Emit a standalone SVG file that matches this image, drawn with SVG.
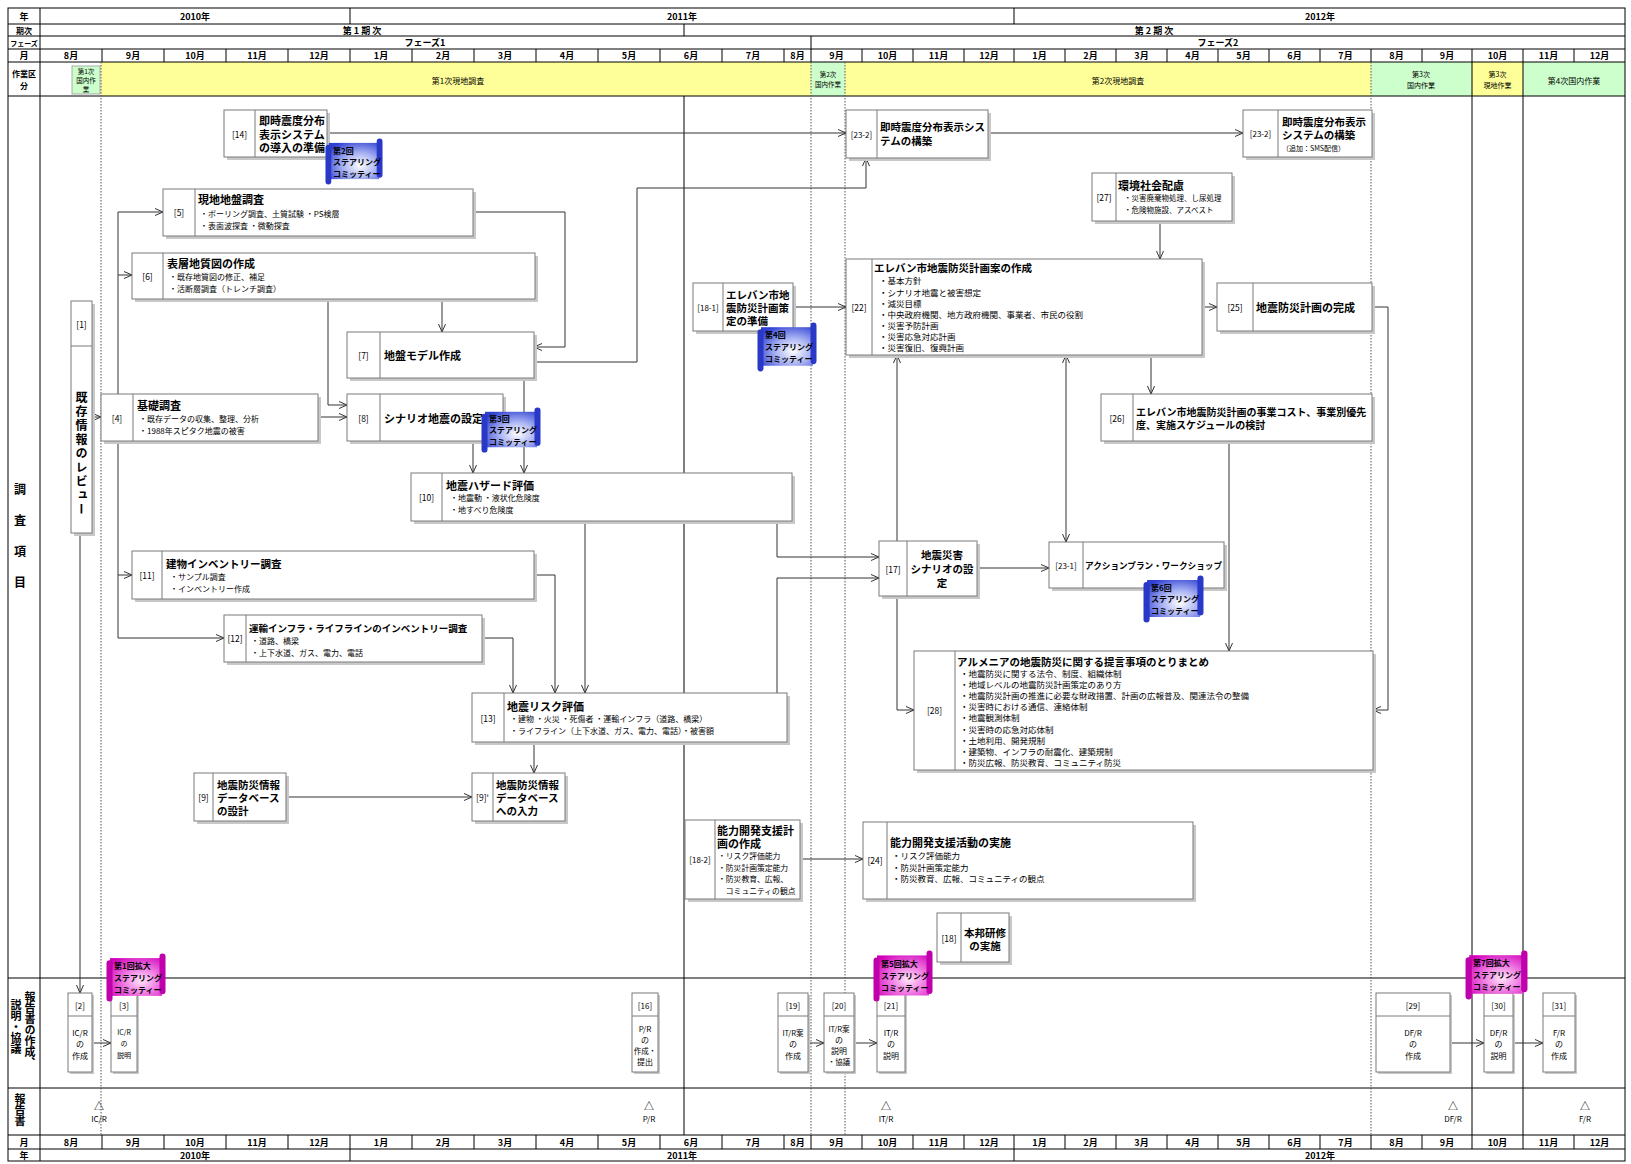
<svg xmlns="http://www.w3.org/2000/svg" width="1631" height="1164" viewBox="0 0 1631 1164">
<style>
text{font-family:"Noto Sans CJK JP","Noto Sans CJK SC",sans-serif;fill:#000;dominant-baseline:central}
.ti{font-size:11px;font-weight:700}
.bu{font-size:8px}
.lb{font-size:8.5px;text-anchor:middle}
.hd{font-size:9px;font-weight:700;text-anchor:middle}
.wk{font-size:8px;text-anchor:middle}
.sm{font-size:6.5px;text-anchor:middle}
.sc{font-size:8px;font-weight:700}
.rp{font-size:8px;text-anchor:middle}
.vt{font-size:11px;font-weight:700;writing-mode:vertical-rl}
.bx{fill:#fff;stroke:#7a7a7a;stroke-width:1}
.sh{fill:#c8c8c8}
.dv{stroke:#7a7a7a;stroke-width:1}
.cn{fill:none;stroke:#333;stroke-width:1;marker-end:url(#ah)}
.dot{stroke:#555;stroke-width:1;stroke-dasharray:1.5 1.5}
</style>
<defs>
<marker id="ah" markerUnits="userSpaceOnUse" markerWidth="9" markerHeight="8" refX="8" refY="4" orient="auto-start-reverse">
<path d="M0,0.5 L8,4 L0,7.5" fill="none" stroke="#333" stroke-width="1"/>
</marker>
<radialGradient id="gB" cx="0.62" cy="0.62" r="0.75">
<stop offset="0" stop-color="#ffffff"/><stop offset="0.45" stop-color="#a9b3f3"/><stop offset="1" stop-color="#2e3fd2"/>
</radialGradient>
<radialGradient id="gP" cx="0.6" cy="0.6" r="0.75">
<stop offset="0" stop-color="#ffe6fa"/><stop offset="0.45" stop-color="#f07ae2"/><stop offset="1" stop-color="#d000ba"/>
</radialGradient>
<symbol id="scB" viewBox="0 0 60 48" preserveAspectRatio="none">
<rect x="4" y="5" width="52" height="37" fill="url(#gB)"/>
<rect x="0.5" y="7" width="6" height="40.5" rx="3" fill="#2a38c8"/>
<rect x="53.5" y="0.5" width="6" height="40" rx="3" fill="#2a38c8"/>
</symbol>
<symbol id="scP" viewBox="0 0 60 48" preserveAspectRatio="none">
<rect x="4" y="5" width="52" height="37" fill="url(#gP)"/>
<rect x="0.5" y="7" width="6" height="40.5" rx="3" fill="#c000aa"/>
<rect x="53.5" y="0.5" width="6" height="40" rx="3" fill="#c000aa"/>
</symbol>
</defs>
<rect x="0" y="0" width="1631" height="1164" fill="#fff"/>

<g id="header-fills">
<rect x="72" y="66" width="28" height="28" fill="#ccffcc" stroke="#9a9a9a" stroke-width="0.8"/>
<rect x="101" y="62" width="710" height="34" fill="#ffff99"/>
<rect x="811" y="62" width="34" height="34" fill="#ccffcc"/>
<rect x="845" y="62" width="526" height="34" fill="#ffff99"/>
<rect x="1371" y="62" width="101" height="34" fill="#ccffcc"/>
<rect x="1472" y="62" width="51" height="34" fill="#ffff99"/>
<rect x="1523" y="62" width="102" height="34" fill="#ccffcc"/>
</g>

<g id="grid" fill="none" stroke="#000" stroke-width="1">
<rect x="8" y="8" width="1617" height="1153"/>
<path d="M8,24H1625M8,36H1625M8,49H1625M8,62H1625M8,96H1625M8,978H1625M8,1088H1625M8,1135H1625M8,1149H1625"/>
<path d="M40,8V1161M350,8V24M1014,8V24M350,1149V1161M1014,1149V1161M684,24V36M811,36V49"/>
<path d="M684,96V1135M1472,62V1135M1523,62V1135"/>
<path d="M102,49V62M164,49V62M226,49V62M288,49V62M350,49V62M412,49V62M474,49V62M536,49V62M598,49V62M660,49V62M722,49V62M784,49V62M811,49V62M862,49V62M913,49V62M964,49V62M1014,49V62M1065,49V62M1116,49V62M1167,49V62M1218,49V62M1269,49V62M1320,49V62M1371,49V62M1422,49V62M1472,49V62M1523,49V62M1574,49V62"/>
<path d="M102,1135V1149M164,1135V1149M226,1135V1149M288,1135V1149M350,1135V1149M412,1135V1149M474,1135V1149M536,1135V1149M598,1135V1149M660,1135V1149M722,1135V1149M784,1135V1149M811,1135V1149M862,1135V1149M913,1135V1149M964,1135V1149M1014,1135V1149M1065,1135V1149M1116,1135V1149M1167,1135V1149M1218,1135V1149M1269,1135V1149M1320,1135V1149M1371,1135V1149M1422,1135V1149M1472,1135V1149M1523,1135V1149M1574,1135V1149"/>
</g>
<g id="dotted">
<path class="dot" d="M101,62V1135M811,62V1135M845,62V1135M1371,62V1135"/>
</g>

<g id="header-text">
<text class="hd" x="24" y="16">年</text>
<text class="hd" x="195" y="16">2010年</text>
<text class="hd" x="682" y="16">2011年</text>
<text class="hd" x="1320" y="16">2012年</text>
<text class="hd" x="24" y="30" style="font-size:8px">期次</text>
<text class="hd" x="362" y="30">第 1 期 次</text>
<text class="hd" x="1154" y="30">第 2 期 次</text>
<text class="hd" x="24" y="42.5" style="font-size:7px">フェーズ</text>
<text class="hd" x="425" y="42.5">フェーズ1</text>
<text class="hd" x="1218" y="42.5">フェーズ2</text>
<text class="hd" x="24" y="55.5">月</text>
<g class="months">
<text class="hd" x="71" y="55.5">8月</text><text class="hd" x="133" y="55.5">9月</text><text class="hd" x="195" y="55.5">10月</text><text class="hd" x="257" y="55.5">11月</text><text class="hd" x="319" y="55.5">12月</text><text class="hd" x="381" y="55.5">1月</text><text class="hd" x="443" y="55.5">2月</text><text class="hd" x="505" y="55.5">3月</text><text class="hd" x="567" y="55.5">4月</text><text class="hd" x="629" y="55.5">5月</text><text class="hd" x="691" y="55.5">6月</text><text class="hd" x="753" y="55.5">7月</text><text class="hd" x="797.5" y="55.5">8月</text>
<text class="hd" x="836.5" y="55.5">9月</text><text class="hd" x="887.5" y="55.5">10月</text><text class="hd" x="938.5" y="55.5">11月</text><text class="hd" x="989" y="55.5">12月</text><text class="hd" x="1039.5" y="55.5">1月</text><text class="hd" x="1090.5" y="55.5">2月</text><text class="hd" x="1141.5" y="55.5">3月</text><text class="hd" x="1192.5" y="55.5">4月</text><text class="hd" x="1243.5" y="55.5">5月</text><text class="hd" x="1294.5" y="55.5">6月</text><text class="hd" x="1345.5" y="55.5">7月</text><text class="hd" x="1396.5" y="55.5">8月</text><text class="hd" x="1447" y="55.5">9月</text><text class="hd" x="1497.5" y="55.5">10月</text><text class="hd" x="1548.5" y="55.5">11月</text><text class="hd" x="1599.5" y="55.5">12月</text>
</g>
<text class="hd" x="24" y="73" style="font-size:8px">作業区</text>
<text class="hd" x="24" y="85" style="font-size:8px">分</text>
<text class="sm" x="86" y="71">第1次</text>
<text class="sm" x="86" y="80">国内作</text>
<text class="sm" x="86" y="89">業</text>
<text class="wk" x="458" y="80">第1次現地調査</text>
<text class="sm" x="828" y="74">第2次</text>
<text class="sm" x="828" y="84">国内作業</text>
<text class="wk" x="1118" y="80">第2次現地調査</text>
<text class="wk" x="1421" y="74" style="font-size:7px">第3次</text>
<text class="wk" x="1421" y="85" style="font-size:7px">国内作業</text>
<text class="wk" x="1497.5" y="74" style="font-size:7px">第3次</text>
<text class="wk" x="1497.5" y="85" style="font-size:7px">現地作業</text>
<text class="wk" x="1574" y="80">第4次国内作業</text>
</g>

<g id="side-labels">
<text class="vt" x="20" y="483" style="font-size:12px" letter-spacing="19">調査項目</text>
<text class="vt" x="30" y="991">報告書の作成、</text>
<text class="vt" x="16" y="999">説明・協議</text>
<text class="vt" x="20" y="1093">報告書</text>
<text class="hd" x="24" y="1142">月</text>
<text class="hd" x="24" y="1155">年</text>
<g class="months">
<text class="hd" x="71" y="1142">8月</text><text class="hd" x="133" y="1142">9月</text><text class="hd" x="195" y="1142">10月</text><text class="hd" x="257" y="1142">11月</text><text class="hd" x="319" y="1142">12月</text><text class="hd" x="381" y="1142">1月</text><text class="hd" x="443" y="1142">2月</text><text class="hd" x="505" y="1142">3月</text><text class="hd" x="567" y="1142">4月</text><text class="hd" x="629" y="1142">5月</text><text class="hd" x="691" y="1142">6月</text><text class="hd" x="753" y="1142">7月</text><text class="hd" x="797.5" y="1142">8月</text>
<text class="hd" x="836.5" y="1142">9月</text><text class="hd" x="887.5" y="1142">10月</text><text class="hd" x="938.5" y="1142">11月</text><text class="hd" x="989" y="1142">12月</text><text class="hd" x="1039.5" y="1142">1月</text><text class="hd" x="1090.5" y="1142">2月</text><text class="hd" x="1141.5" y="1142">3月</text><text class="hd" x="1192.5" y="1142">4月</text><text class="hd" x="1243.5" y="1142">5月</text><text class="hd" x="1294.5" y="1142">6月</text><text class="hd" x="1345.5" y="1142">7月</text><text class="hd" x="1396.5" y="1142">8月</text><text class="hd" x="1447" y="1142">9月</text><text class="hd" x="1497.5" y="1142">10月</text><text class="hd" x="1548.5" y="1142">11月</text><text class="hd" x="1599.5" y="1142">12月</text>
</g>
<text class="hd" x="195" y="1155">2010年</text>
<text class="hd" x="682" y="1155">2011年</text>
<text class="hd" x="1320" y="1155">2012年</text>
</g>

<g id="connectors">
<path class="cn" d="M80,533V993"/>
<path class="cn" d="M92,417H101"/>
<path class="cn" d="M118,394V212H163"/>
<path class="cn" d="M118,275H132"/>
<path class="cn" d="M118,441V638H224"/>
<path class="cn" d="M118,575H132"/>
<path class="cn" d="M318,417H347"/>
<path class="cn" d="M442,299V332"/>
<path class="cn" d="M328,299V405H347"/>
<path class="cn" d="M473,212H565V347H534"/>
<path class="cn" d="M534,362H637V188H866V158"/>
<path class="cn" d="M524,378V473"/>
<path class="cn" d="M473,441V473"/>
<path class="cn" d="M327,133H846"/>
<path class="cn" d="M988,133H1243"/>
<path class="cn" d="M585,521V693"/>
<path class="cn" d="M534,575H555V693"/>
<path class="cn" d="M482,638H513V693"/>
<path class="cn" d="M777,521V557H879"/>
<path class="cn" d="M777,693V578H879"/>
<path class="cn" d="M534,742V773"/>
<path class="cn" d="M286,797H472"/>
<path class="cn" d="M800,859H863"/>
<path class="cn" d="M793,307H846"/>
<path class="cn" d="M1160,221V259"/>
<path class="cn" d="M1202,307H1217"/>
<path class="cn" d="M1151,355V394"/>
<path class="cn" d="M1229,441V651"/>
<path class="cn" d="M1372,307H1388V710H1373"/>
<path class="cn" d="M897,541V355"/>
<path class="cn" d="M1066,542V355" marker-start="url(#ah)"/>
<path class="cn" d="M977,568H1049"/>
<path class="cn" d="M897,596V710H914"/>
<path class="cn" d="M92,1043H111"/>
<path class="cn" d="M808,1043H824"/>
<path class="cn" d="M854,1043H877"/>
<path class="cn" d="M1450,1043H1484"/>
<path class="cn" d="M1513,1043H1543"/>
</g>

<g id="n1">
<rect class="sh" x="74" y="304" width="21" height="232"/>
<rect class="bx" x="71" y="301" width="21" height="232"/>
<line class="dv" x1="71" y1="346" x2="92" y2="346"/>
<text class="lb" x="81.5" y="324">[1]</text>
<text class="vt" x="81.5" y="391" style="font-size:12px" letter-spacing="2">既存情報のレビュー</text>
</g>

<g id="n14">
<rect class="sh" x="227" y="113" width="103" height="47"/>
<rect class="bx" x="224" y="110" width="103" height="47"/>
<line class="dv" x1="255" y1="110" x2="255" y2="157"/>
<text class="lb" x="239.5" y="133.5">[14]</text>
<text class="ti" x="259" y="120">即時震度分布</text>
<text class="ti" x="259" y="133.5">表示システム</text>
<text class="ti" x="259" y="147">の導入の準備</text>
</g>

<g id="n5">
<rect class="sh" x="166" y="192" width="310" height="47"/>
<rect class="bx" x="163" y="189" width="310" height="47"/>
<line class="dv" x1="195" y1="189" x2="195" y2="236"/>
<text class="lb" x="179" y="212">[5]</text>
<text class="ti" x="198" y="199">現地地盤調査</text>
<text class="bu" x="200" y="213">・ボーリング調査、土質試験 ・PS検層</text>
<text class="bu" x="200" y="225">・表面波探査 ・微動探査</text>
</g>

<g id="n6">
<rect class="sh" x="135" y="256" width="403" height="46"/>
<rect class="bx" x="132" y="253" width="403" height="46"/>
<line class="dv" x1="163" y1="253" x2="163" y2="299"/>
<text class="lb" x="147.5" y="276">[6]</text>
<text class="ti" x="167" y="263">表層地質図の作成</text>
<text class="bu" x="169" y="276">・既存地質図の修正、補足</text>
<text class="bu" x="169" y="288">・活断層調査（トレンチ調査）</text>
</g>

<g id="n7">
<rect class="sh" x="350" y="335" width="187" height="46"/>
<rect class="bx" x="347" y="332" width="187" height="46"/>
<line class="dv" x1="380" y1="332" x2="380" y2="378"/>
<text class="lb" x="363.5" y="355">[7]</text>
<text class="ti" x="384" y="355">地盤モデル作成</text>
</g>

<g id="n4">
<rect class="sh" x="104" y="397" width="217" height="47"/>
<rect class="bx" x="101" y="394" width="217" height="47"/>
<line class="dv" x1="133" y1="394" x2="133" y2="441"/>
<text class="lb" x="117" y="417.5">[4]</text>
<text class="ti" x="137" y="405">基礎調査</text>
<text class="bu" x="139" y="418">・既存データの収集、整理、分析</text>
<text class="bu" x="139" y="430">・1988年スピタク地震の被害</text>
</g>

<g id="n8">
<rect class="sh" x="350" y="397" width="156" height="47"/>
<rect class="bx" x="347" y="394" width="156" height="47"/>
<line class="dv" x1="380" y1="394" x2="380" y2="441"/>
<text class="lb" x="363.5" y="417.5">[8]</text>
<text class="ti" x="384" y="417.5">シナリオ地震の設定</text>
</g>

<g id="n10">
<rect class="sh" x="414" y="476" width="381" height="48"/>
<rect class="bx" x="411" y="473" width="381" height="48"/>
<line class="dv" x1="442" y1="473" x2="442" y2="521"/>
<text class="lb" x="426.5" y="497">[10]</text>
<text class="ti" x="446" y="485">地震ハザード評価</text>
<text class="bu" x="450" y="497.5">・地震動 ・液状化危険度</text>
<text class="bu" x="450" y="509.5">・地すべり危険度</text>
</g>

<g id="n11">
<rect class="sh" x="135" y="554" width="402" height="48"/>
<rect class="bx" x="132" y="551" width="402" height="48"/>
<line class="dv" x1="162" y1="551" x2="162" y2="599"/>
<text class="lb" x="147" y="575">[11]</text>
<text class="ti" x="166" y="563" style="font-size:10.5px">建物インベントリー調査</text>
<text class="bu" x="170" y="576">・サンプル調査</text>
<text class="bu" x="170" y="588">・インベントリー作成</text>
</g>

<g id="n12">
<rect class="sh" x="227" y="618" width="258" height="47"/>
<rect class="bx" x="224" y="615" width="258" height="47"/>
<line class="dv" x1="246" y1="615" x2="246" y2="662"/>
<text class="lb" x="235" y="638">[12]</text>
<text class="ti" x="249" y="628" style="font-size:9.5px">運輸インフラ・ライフラインのインベントリー調査</text>
<text class="bu" x="251" y="640">・道路、橋梁</text>
<text class="bu" x="251" y="652">・上下水道、ガス、電力、電話</text>
</g>

<g id="n13">
<rect class="sh" x="475" y="696" width="315" height="49"/>
<rect class="bx" x="472" y="693" width="315" height="49"/>
<line class="dv" x1="504" y1="693" x2="504" y2="742"/>
<text class="lb" x="488" y="717.5">[13]</text>
<text class="ti" x="507" y="706">地震リスク評価</text>
<text class="bu" x="510" y="718.5">・建物 ・火災 ・死傷者 ・運輸インフラ（道路、橋梁）</text>
<text class="bu" x="510" y="730.5">・ライフライン（上下水道、ガス、電力、電話）・被害額</text>
</g>

<g id="n9">
<rect class="sh" x="197" y="776" width="92" height="48"/>
<rect class="bx" x="194" y="773" width="92" height="48"/>
<line class="dv" x1="213" y1="773" x2="213" y2="821"/>
<text class="lb" x="203.5" y="797">[9]</text>
<text class="ti" x="217" y="784" style="font-size:10.5px">地震防災情報</text>
<text class="ti" x="217" y="797" style="font-size:10.5px">データベース</text>
<text class="ti" x="217" y="810" style="font-size:10.5px">の設計</text>
</g>

<g id="n9b">
<rect class="sh" x="475" y="776" width="93" height="48"/>
<rect class="bx" x="472" y="773" width="93" height="48"/>
<line class="dv" x1="493" y1="773" x2="493" y2="821"/>
<text class="lb" x="482.5" y="797">[9]'</text>
<text class="ti" x="496" y="784" style="font-size:10.5px">地震防災情報</text>
<text class="ti" x="496" y="797" style="font-size:10.5px">データベース</text>
<text class="ti" x="496" y="810" style="font-size:10.5px">への入力</text>
</g>

<g id="n18-1">
<rect class="sh" x="696" y="286" width="100" height="48"/>
<rect class="bx" x="693" y="283" width="100" height="48"/>
<line class="dv" x1="723" y1="283" x2="723" y2="331"/>
<text class="lb" x="708" y="307" style="font-size:8px">[18-1]</text>
<text class="ti" x="726" y="294" style="font-size:10.5px">エレバン市地</text>
<text class="ti" x="726" y="307" style="font-size:10.5px">震防災計画策</text>
<text class="ti" x="726" y="320" style="font-size:10.5px">定の準備</text>
</g>

<g id="n18-2">
<rect class="sh" x="688" y="823" width="115" height="79"/>
<rect class="bx" x="685" y="820" width="115" height="79"/>
<line class="dv" x1="715" y1="820" x2="715" y2="899"/>
<text class="lb" x="700" y="859" style="font-size:8px">[18-2]</text>
<text class="ti" x="717" y="830">能力開発支援計</text>
<text class="ti" x="717" y="843">画の作成</text>
<text class="bu" x="718" y="855.5" style="font-size:7.8px">・リスク評価能力</text>
<text class="bu" x="718" y="867" style="font-size:7.8px">・防災計画策定能力</text>
<text class="bu" x="718" y="878.5" style="font-size:7.8px">・防災教育、広報、</text>
<text class="bu" x="718" y="890" style="font-size:7.8px">　コミュニティの観点</text>
</g>

<g id="n24">
<rect class="sh" x="866" y="825" width="330" height="77"/>
<rect class="bx" x="863" y="822" width="330" height="77"/>
<line class="dv" x1="887" y1="822" x2="887" y2="899"/>
<text class="lb" x="875" y="860">[24]</text>
<text class="ti" x="890" y="842">能力開発支援活動の実施</text>
<text class="bu" x="892" y="855" style="font-size:8.5px">・リスク評価能力</text>
<text class="bu" x="892" y="866.5" style="font-size:8.5px">・防災計画策定能力</text>
<text class="bu" x="892" y="878" style="font-size:8.5px">・防災教育、広報、コミュニティの観点</text>
</g>

<g id="n18">
<rect class="sh" x="940" y="916" width="72" height="49"/>
<rect class="bx" x="937" y="913" width="72" height="49"/>
<line class="dv" x1="961" y1="913" x2="961" y2="962"/>
<text class="lb" x="949" y="937.5">[18]</text>
<text class="ti" x="985" y="932" style="font-size:10.5px;text-anchor:middle">本邦研修</text>
<text class="ti" x="985" y="945" style="font-size:10.5px;text-anchor:middle">の実施</text>
</g>

<g id="n23-2a">
<rect class="sh" x="849" y="113" width="142" height="48"/>
<rect class="bx" x="846" y="110" width="142" height="48"/>
<line class="dv" x1="877" y1="110" x2="877" y2="158"/>
<text class="lb" x="861.5" y="134" style="font-size:8px">[23-2]</text>
<text class="ti" x="880" y="126" style="font-size:10.5px">即時震度分布表示シス</text>
<text class="ti" x="880" y="140" style="font-size:10.5px">テムの構築</text>
</g>

<g id="n23-2b">
<rect class="sh" x="1246" y="113" width="129" height="47"/>
<rect class="bx" x="1243" y="110" width="129" height="47"/>
<line class="dv" x1="1278" y1="110" x2="1278" y2="157"/>
<text class="lb" x="1260.5" y="133.5" style="font-size:8px">[23-2]</text>
<text class="ti" x="1282" y="121" style="font-size:10.5px">即時震度分布表示</text>
<text class="ti" x="1282" y="134.5" style="font-size:10.5px">システムの構築</text>
<text class="bu" x="1282" y="148" style="font-size:7px">（追加：SMS配信）</text>
</g>

<g id="n27">
<rect class="sh" x="1095" y="176" width="140" height="48"/>
<rect class="bx" x="1092" y="173" width="140" height="48"/>
<line class="dv" x1="1116" y1="173" x2="1116" y2="221"/>
<text class="lb" x="1104" y="197">[27]</text>
<text class="ti" x="1118" y="185">環境社会配慮</text>
<text class="bu" x="1124" y="197.5" style="font-size:7.5px">・災害廃棄物処理、し尿処理</text>
<text class="bu" x="1124" y="209.5" style="font-size:7.5px">・危険物施設、アスベスト</text>
</g>

<g id="n22">
<rect class="sh" x="849" y="262" width="356" height="96"/>
<rect class="bx" x="846" y="259" width="356" height="96"/>
<line class="dv" x1="872" y1="259" x2="872" y2="355"/>
<text class="lb" x="859" y="307">[22]</text>
<text class="ti" x="874" y="267.5" style="font-size:10.5px">エレバン市地震防災計画案の作成</text>
<text class="bu" x="879" y="280" style="font-size:8.5px">・基本方針</text>
<text class="bu" x="879" y="291.5" style="font-size:8.5px">・シナリオ地震と被害想定</text>
<text class="bu" x="879" y="302.5" style="font-size:8.5px">・減災目標</text>
<text class="bu" x="879" y="313.5" style="font-size:8.5px">・中央政府機関、地方政府機関、事業者、市民の役割</text>
<text class="bu" x="879" y="325" style="font-size:8.5px">・災害予防計画</text>
<text class="bu" x="879" y="336" style="font-size:8.5px">・災害応急対応計画</text>
<text class="bu" x="879" y="347" style="font-size:8.5px">・災害復旧、復興計画</text>
</g>

<g id="n25">
<rect class="sh" x="1220" y="286" width="155" height="48"/>
<rect class="bx" x="1217" y="283" width="155" height="48"/>
<line class="dv" x1="1253" y1="283" x2="1253" y2="331"/>
<text class="lb" x="1235" y="307">[25]</text>
<text class="ti" x="1256" y="307">地震防災計画の完成</text>
</g>

<g id="n26">
<rect class="sh" x="1104" y="397" width="271" height="47"/>
<rect class="bx" x="1101" y="394" width="271" height="47"/>
<line class="dv" x1="1133" y1="394" x2="1133" y2="441"/>
<text class="lb" x="1117" y="417.5">[26]</text>
<text class="ti" x="1136" y="411" style="font-size:10px">エレバン市地震防災計画の事業コスト、事業別優先</text>
<text class="ti" x="1136" y="424.5" style="font-size:10px">度、実施スケジュールの検討</text>
</g>

<g id="n17">
<rect class="sh" x="882" y="544" width="98" height="55"/>
<rect class="bx" x="879" y="541" width="98" height="55"/>
<line class="dv" x1="907" y1="541" x2="907" y2="596"/>
<text class="lb" x="893" y="568.5">[17]</text>
<text class="ti" x="942" y="554.5" style="font-size:10.5px;text-anchor:middle">地震災害</text>
<text class="ti" x="942" y="568.5" style="font-size:10.5px;text-anchor:middle">シナリオの設</text>
<text class="ti" x="942" y="582.5" style="font-size:10.5px;text-anchor:middle">定</text>
</g>

<g id="n23-1">
<rect class="sh" x="1052" y="545" width="175" height="46"/>
<rect class="bx" x="1049" y="542" width="175" height="46"/>
<line class="dv" x1="1083" y1="542" x2="1083" y2="588"/>
<text class="lb" x="1066" y="565" style="font-size:8px">[23-1]</text>
<text class="ti" x="1085" y="565" style="font-size:9px" textLength="137" lengthAdjust="spacingAndGlyphs">アクションプラン・ワークショップ</text>
</g>

<g id="n28">
<rect class="sh" x="917" y="654" width="459" height="119"/>
<rect class="bx" x="914" y="651" width="459" height="119"/>
<line class="dv" x1="955" y1="651" x2="955" y2="770"/>
<text class="lb" x="934.5" y="710">[28]</text>
<text class="ti" x="957" y="661" style="font-size:10.5px">アルメニアの地震防災に関する提言事項のとりまとめ</text>
<text class="bu" x="960" y="672.5" style="font-size:8.5px">・地震防災に関する法令、制度、組織体制</text>
<text class="bu" x="960" y="683.7" style="font-size:8.5px">・地域レベルの地震防災計画策定のあり方</text>
<text class="bu" x="960" y="694.9" style="font-size:8.5px">・地震防災計画の推進に必要な財政措置、計画の広報普及、関連法令の整備</text>
<text class="bu" x="960" y="706.1" style="font-size:8.5px">・災害時における通信、連絡体制</text>
<text class="bu" x="960" y="717.3" style="font-size:8.5px">・地震観測体制</text>
<text class="bu" x="960" y="728.5" style="font-size:8.5px">・災害時の応急対応体制</text>
<text class="bu" x="960" y="739.7" style="font-size:8.5px">・土地利用、開発規制</text>
<text class="bu" x="960" y="750.9" style="font-size:8.5px">・建築物、インフラの耐震化、建築規制</text>
<text class="bu" x="960" y="762.1" style="font-size:8.5px">・防災広報、防災教育、コミュニティ防災</text>
</g>

<g id="r2">
<rect class="sh" x="70" y="995" width="24" height="79"/>
<rect class="bx" x="68" y="993" width="24" height="79"/>
<line class="dv" x1="68" y1="1016" x2="92" y2="1016"/>
<text class="rp" x="80" y="1005">[2]</text>
<text class="rp" x="80" y="1032">IC/R</text>
<text class="rp" x="80" y="1043">の</text>
<text class="rp" x="80" y="1055">作成</text>
</g>
<g id="r3">
<rect class="sh" x="113" y="995" width="26" height="79"/>
<rect class="bx" x="111" y="993" width="26" height="79"/>
<line class="dv" x1="111" y1="1016" x2="137" y2="1016"/>
<text class="rp" x="124" y="1005">[3]</text>
<text class="rp" x="124" y="1032" style="font-size:7px">IC/R</text>
<text class="rp" x="124" y="1043" style="font-size:7px">の</text>
<text class="rp" x="124" y="1055" style="font-size:7px">説明</text>
</g>
<g id="r16">
<rect class="sh" x="634" y="995" width="26" height="79"/>
<rect class="bx" x="632" y="993" width="26" height="79"/>
<line class="dv" x1="632" y1="1016" x2="658" y2="1016"/>
<text class="rp" x="645" y="1005">[16]</text>
<text class="rp" x="645" y="1028">P/R</text>
<text class="rp" x="645" y="1039">の</text>
<text class="rp" x="645" y="1050" style="font-size:7.5px">作成・</text>
<text class="rp" x="645" y="1061">提出</text>
</g>
<g id="r19">
<rect class="sh" x="780" y="995" width="30" height="79"/>
<rect class="bx" x="778" y="993" width="30" height="79"/>
<line class="dv" x1="778" y1="1016" x2="808" y2="1016"/>
<text class="rp" x="793" y="1005">[19]</text>
<text class="rp" x="793" y="1032" style="font-size:7.5px">IT/R案</text>
<text class="rp" x="793" y="1043">の</text>
<text class="rp" x="793" y="1055">作成</text>
</g>
<g id="r20">
<rect class="sh" x="826" y="995" width="30" height="79"/>
<rect class="bx" x="824" y="993" width="30" height="79"/>
<line class="dv" x1="824" y1="1016" x2="854" y2="1016"/>
<text class="rp" x="839" y="1005">[20]</text>
<text class="rp" x="839" y="1028" style="font-size:7.5px">IT/R案</text>
<text class="rp" x="839" y="1039">の</text>
<text class="rp" x="839" y="1050">説明</text>
<text class="rp" x="839" y="1061" style="font-size:7.5px">・協議</text>
</g>
<g id="r21">
<rect class="sh" x="879" y="995" width="28" height="79"/>
<rect class="bx" x="877" y="993" width="28" height="79"/>
<line class="dv" x1="877" y1="1016" x2="905" y2="1016"/>
<text class="rp" x="891" y="1005">[21]</text>
<text class="rp" x="891" y="1032">IT/R</text>
<text class="rp" x="891" y="1043">の</text>
<text class="rp" x="891" y="1055">説明</text>
</g>
<g id="r29">
<rect class="sh" x="1378" y="995" width="74" height="79"/>
<rect class="bx" x="1376" y="993" width="74" height="79"/>
<line class="dv" x1="1376" y1="1016" x2="1450" y2="1016"/>
<text class="rp" x="1413" y="1005">[29]</text>
<text class="rp" x="1413" y="1032">DF/R</text>
<text class="rp" x="1413" y="1043">の</text>
<text class="rp" x="1413" y="1055">作成</text>
</g>
<g id="r30">
<rect class="sh" x="1486" y="995" width="29" height="79"/>
<rect class="bx" x="1484" y="993" width="29" height="79"/>
<line class="dv" x1="1484" y1="1016" x2="1513" y2="1016"/>
<text class="rp" x="1498.5" y="1005">[30]</text>
<text class="rp" x="1498.5" y="1032">DF/R</text>
<text class="rp" x="1498.5" y="1043">の</text>
<text class="rp" x="1498.5" y="1055">説明</text>
</g>
<g id="r31">
<rect class="sh" x="1545" y="995" width="32" height="79"/>
<rect class="bx" x="1543" y="993" width="32" height="79"/>
<line class="dv" x1="1543" y1="1016" x2="1575" y2="1016"/>
<text class="rp" x="1559" y="1005">[31]</text>
<text class="rp" x="1559" y="1032">F/R</text>
<text class="rp" x="1559" y="1043">の</text>
<text class="rp" x="1559" y="1055">作成</text>
</g>

<g id="milestones">
<text class="rp" x="99" y="1105" style="font-size:10px">△</text><text class="rp" x="99" y="1118">IC/R</text>
<text class="rp" x="649" y="1105" style="font-size:10px">△</text><text class="rp" x="649" y="1118">P/R</text>
<text class="rp" x="886" y="1105" style="font-size:10px">△</text><text class="rp" x="886" y="1118">IT/R</text>
<text class="rp" x="1453" y="1105" style="font-size:10px">△</text><text class="rp" x="1453" y="1118">DF/R</text>
<text class="rp" x="1585" y="1105" style="font-size:10px">△</text><text class="rp" x="1585" y="1118">F/R</text>
</g>

<g id="sc2">
<use href="#scB" x="325" y="138" width="58" height="47"/>
<text class="sc" x="333" y="150">第2回</text>
<text class="sc" x="333" y="161.5">ステアリング</text>
<text class="sc" x="333" y="173">コミッティー</text>
</g>
<g id="sc3">
<use href="#scB" x="481" y="407" width="60" height="46"/>
<text class="sc" x="489" y="418">第3回</text>
<text class="sc" x="489" y="429.5">ステアリング</text>
<text class="sc" x="489" y="441">コミッティー</text>
</g>
<g id="sc4">
<use href="#scB" x="757" y="322" width="60" height="50"/>
<text class="sc" x="765" y="334">第4回</text>
<text class="sc" x="765" y="346">ステアリング</text>
<text class="sc" x="765" y="358">コミッティー</text>
</g>
<g id="sc6">
<use href="#scB" x="1143" y="575" width="61" height="48"/>
<text class="sc" x="1151" y="587">第6回</text>
<text class="sc" x="1151" y="598.5">ステアリング</text>
<text class="sc" x="1151" y="610">コミッティー</text>
</g>
<g id="sc1x">
<use href="#scP" x="106" y="953" width="60" height="49"/>
<text class="sc" x="114" y="965">第1回拡大</text>
<text class="sc" x="114" y="977">ステアリング</text>
<text class="sc" x="114" y="989">コミッティー</text>
</g>
<g id="sc5x">
<use href="#scP" x="873" y="950" width="60" height="52"/>
<text class="sc" x="881" y="963">第5回拡大</text>
<text class="sc" x="881" y="975">ステアリング</text>
<text class="sc" x="881" y="987">コミッティー</text>
</g>
<g id="sc7x">
<use href="#scP" x="1465" y="950" width="63" height="50"/>
<text class="sc" x="1473" y="962">第7回拡大</text>
<text class="sc" x="1473" y="974">ステアリング</text>
<text class="sc" x="1473" y="986">コミッティー</text>
</g>
</svg>
